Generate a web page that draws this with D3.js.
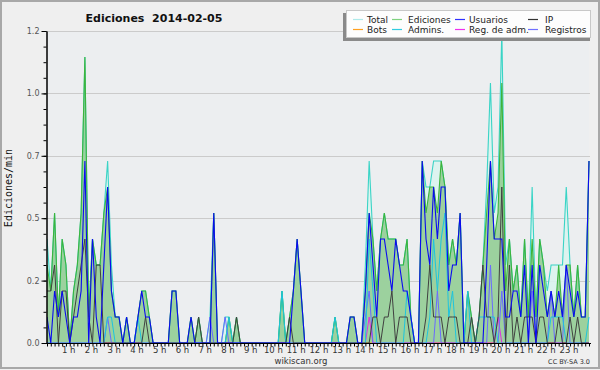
<!DOCTYPE html>
<html>
<head>
<meta charset="utf-8">
<script src="https://cdn.jsdelivr.net/npm/d3@7"></script>
<style>
  body { margin: 0; background: #efefef; }
  svg { display: block; }
</style>
</head>
<body>
<div id="chart"></div>
<script>
// 10-minute bins over the day (144 values), edits per minute
const hourLabels = ["1 h","2 h","3 h","4 h","5 h","6 h","7 h","8 h","9 h","10 h","11 h","12 h",
    "13 h","14 h","15 h","16 h","17 h","18 h","19 h","20 h","21 h","22 h","23 h"];
const yTickValues = [0, 0.24, 0.48, 0.72, 0.96, 1.2];

const total = [
    0.4,0.2,0.5,0.1,0.4,0.3,0,0.2,0.3,0.5,1.1,0.1,
    0.4,0.3,0.3,0.5,0.7,0.3,0.1,0.1,0,0.1,0,0,
    0.1,0.2,0.2,0.1,0,0,0,0,0,0.2,0.2,0,
    0,0,0.1,0,0.1,0,0,0.1,0.5,0,0,0.1,
    0.1,0,0.1,0,0,0,0,0,0,0,0,0,
    0,0,0.2,0,0.1,0.2,0.4,0.2,0,0,0,0,
    0,0,0,0,0.1,0,0,0,0.1,0.1,0,0,
    0.3,0.7,0.4,0.2,0.4,0.5,0.4,0.4,0.4,0.3,0.3,0.4,
    0.1,0,0,0.7,0.6,0.6,0.7,0.7,0.7,0.6,0.3,0.4,
    0.3,0.5,0,0.2,0.1,0,0.1,0.3,0.6,1.0,0.5,0.6,
    1.2,0.3,0.4,0.2,0.3,0.1,0.4,0.1,0.6,0.1,0.4,0.3,
    0.2,0.3,0.3,0.3,0.3,0.6,0.3,0.1,0.3,0.1,0.1,0.7
];
const ediciones = [
    0.3,0.2,0.5,0.1,0.4,0.3,0,0.2,0.3,0.5,1.1,0.1,
    0.4,0.3,0.3,0.5,0.6,0.2,0.1,0.1,0,0.1,0,0,
    0.1,0.2,0.2,0.1,0,0,0,0,0,0.2,0.2,0,
    0,0,0.1,0,0.1,0,0,0,0.5,0,0,0,
    0.1,0,0.1,0,0,0,0,0,0,0,0,0,
    0,0,0.2,0,0.1,0.2,0.4,0.2,0,0,0,0,
    0,0,0,0,0.1,0,0,0,0.1,0.1,0,0,
    0.2,0.5,0.4,0.2,0.4,0.5,0.4,0.4,0.4,0.3,0.3,0.4,
    0.1,0,0,0.7,0.5,0.6,0.6,0.5,0.7,0.6,0.3,0.4,
    0.3,0.5,0,0.2,0.1,0,0.1,0.3,0.5,0.7,0.4,0.5,
    1.0,0.2,0.4,0.2,0.3,0.1,0.4,0.1,0.4,0.1,0.4,0.3,
    0.1,0.2,0.1,0.3,0.1,0.3,0.3,0.1,0.3,0.1,0.1,0.7
];
const usuarios = [
    0.1,0,0.2,0.1,0.2,0.1,0,0.1,0.1,0.2,0.7,0,
    0.4,0.1,0,0.3,0.6,0.2,0.1,0.1,0,0.1,0,0,
    0.1,0.2,0.1,0.1,0,0,0,0,0,0.2,0.2,0,
    0,0,0.1,0,0,0,0,0,0.5,0,0,0,
    0,0,0,0,0,0,0,0,0,0,0,0,
    0,0,0,0,0,0.2,0.4,0.2,0,0,0,0,
    0,0,0,0,0,0,0,0,0.1,0.1,0,0,
    0.2,0.5,0.3,0.1,0.4,0.4,0.3,0.2,0.4,0.3,0.2,0.2,
    0.1,0,0,0.7,0.4,0.3,0.6,0.4,0.6,0.6,0.2,0.3,
    0.3,0.5,0,0,0,0,0,0,0.3,0.7,0.4,0.4,
    0.4,0.1,0.1,0.2,0.2,0.1,0.3,0,0.3,0,0.3,0.2,
    0.1,0.2,0.1,0.2,0.1,0.3,0.2,0.1,0.2,0.1,0.1,0.7
];
const ip = [
    0.2,0.2,0.3,0,0.2,0.2,0,0.1,0.2,0.3,0.4,0.1,
    0,0.3,0.3,0,0,0,0,0,0,0,0,0,
    0,0,0.1,0,0,0,0,0,0,0,0,0,
    0,0,0,0,0.1,0,0,0,0,0,0,0,
    0,0,0.1,0,0,0,0,0,0,0,0,0,
    0,0,0,0,0.1,0,0,0,0,0,0,0,
    0,0,0,0,0,0,0,0,0,0,0,0,
    0,0,0.1,0.1,0,0.1,0.1,0.2,0,0.1,0.1,0.1,
    0,0,0,0,0.1,0.3,0.1,0.1,0.1,0,0.1,0.1,
    0.1,0,0,0,0.1,0,0.1,0.3,0.1,0.1,0,0.1,
    0.6,0,0.3,0,0.1,0,0.1,0.1,0.1,0,0.1,0.1,
    0,0,0,0.1,0,0,0.1,0,0.1,0,0,0
];
const bots = [
    0,0,0,0,0,0,0,0,0,0,0,0, 0,0,0,0,0,0,0,0,0,0,0,0,
    0,0,0,0,0,0,0,0,0,0,0,0, 0,0,0,0,0,0,0,0,0,0,0,0,
    0,0,0,0,0,0,0,0,0,0,0,0, 0,0,0,0,0,0,0,0,0,0,0,0,
    0,0,0,0,0,0,0,0,0,0,0,0, 0,0,0,0,0,0,0,0,0,0,0,0,
    0,0,0,0,0,0,0,0,0,0,0,0, 0,0,0,0,0,0,0,0,0,0,0,0,
    0,0,0,0,0,0,0,0,0,0,0,0, 0,0,0,0,0,0,0,0,0,0,0,0
];
const admins = [
    0,0,0,0,0,0,0,0,0,0,0,0,
    0,0,0,0,0.1,0.1,0,0,0,0,0,0,
    0.1,0,0,0,0,0,0,0,0,0,0,0,
    0,0,0,0,0,0,0,0,0,0,0,0,
    0.1,0,0,0,0,0,0,0,0,0,0,0,
    0,0,0.2,0,0,0,0,0,0,0,0,0,
    0,0,0,0,0.1,0,0,0,0,0,0,0,
    0,0.4,0.2,0,0,0,0,0,0,0,0,0.2,
    0.1,0,0,0,0,0.1,0.4,0.2,0.4,0.5,0.1,0.2,
    0,0,0,0.2,0,0,0.1,0.1,0.1,0.1,0.1,0,
    0,0,0,0,0,0,0,0,0,0,0,0,
    0,0.1,0.1,0.1,0.1,0,0,0,0,0,0,0.1
];
const regAdm = [
    0,0,0,0,0,0,0,0,0,0,0,0, 0,0,0,0,0,0,0,0,0,0,0,0,
    0,0,0,0,0,0,0,0,0,0,0,0, 0,0,0,0,0,0,0,0,0,0,0,0,
    0,0,0,0,0,0,0,0,0,0,0,0, 0,0,0,0,0,0,0,0,0,0,0,0,
    0,0,0,0,0,0,0,0,0,0,0,0,
    0,0.1,0,0,0,0,0,0,0,0,0,0,
    0,0,0,0,0,0,0,0,0,0,0,0,
    0,0,0,0,0,0,0,0,0,0,0,0.1,
    0,0,0,0,0,0,0,0,0,0,0,0, 0,0,0,0,0,0,0,0,0,0,0,0
];
const registros = [
    0,0,0,0,0,0,0,0,0,0,0,0,
    0,0,0,0,0.1,0,0,0,0,0,0,0,
    0,0,0,0,0,0,0,0,0,0,0,0,
    0,0,0,0,0,0,0,0.1,0,0,0,0.1,
    0,0,0,0,0,0,0,0,0,0,0,0,
    0,0,0,0,0,0,0,0,0,0,0,0,
    0,0,0,0,0,0,0,0,0,0,0,0,
    0.1,0.2,0,0,0,0,0,0,0,0,0,0,
    0,0,0,0,0,0,0,0.2,0,0,0,0,
    0,0,0,0,0,0,0,0,0,0.3,0,0,
    0.2,0,0,0,0,0,0,0,0.2,0,0,0,
    0,0.2,0,0,0,0.3,0,0,0,0,0,0
];

const legendItems = [
    { name: "Total", color: "#aeeaea" },
    { name: "Ediciones", color: "#7fd27f" },
    { name: "Usuarios", color: "#3030ff" },
    { name: "IP", color: "#333333" },
    { name: "Bots", color: "#ffa020" },
    { name: "Admins.", color: "#30cce0" },
    { name: "Reg. de adm.", color: "#ee30ee" },
    { name: "Registros", color: "#7070ff" }
];

const width = 600, height = 370;
const plotLeft = 47, plotRight = 589, plotTop = 31, plotBottom = 343;

const svg = d3.select("#chart").append("svg")
    .attr("width", width)
    .attr("height", height);

// background + frame
svg.append("rect").attr("width", width).attr("height", height).attr("fill", "#efefef");
svg.append("rect").attr("x", 1).attr("y", 1).attr("width", width - 2).attr("height", height - 3)
    .attr("fill", "none").attr("stroke", "#a8a8a8").attr("stroke-width", 2);
svg.append("rect").attr("x", plotLeft).attr("y", plotTop).attr("width", plotRight - plotLeft).attr("height", plotBottom - plotTop)
    .attr("fill", "#eceef0");

const x = d3.scaleLinear().domain([0, total.length - 1]).range([plotLeft, plotRight]);
const y = d3.scaleLinear().domain([0, 1.2]).range([plotBottom, plotTop]);

// grid
svg.append("g").selectAll("line")
    .data(yTickValues.slice(1))
    .join("line")
    .attr("x1", plotLeft).attr("x2", plotRight + 1)
    .attr("y1", d => Math.round(y(d)) + 0.5).attr("y2", d => Math.round(y(d)) + 0.5)
    .attr("stroke", "#cbcbcb");

svg.append("clipPath").attr("id", "plot-clip")
    .append("rect").attr("x", plotLeft).attr("y", plotTop - 2).attr("width", plotRight - plotLeft + 2).attr("height", plotBottom - plotTop + 2);

const plot = svg.append("g").attr("clip-path", "url(#plot-clip)");

const area = d3.area().x((d, i) => x(i)).y0(y(0)).y1(d => y(d));
const line = d3.line().x((d, i) => x(i)).y(d => y(d));

plot.append("path").datum(total).attr("d", area).attr("fill", "#dcf3ee").attr("opacity", 0.9);
plot.append("path").datum(ediciones).attr("d", area).attr("fill", "#95cd95").attr("opacity", 0.9);

const series = [
    { data: bots, color: "#ffa020", w: 1 },
    { data: total, color: "#3ad4c6", w: 1.1 },
    { data: ediciones, color: "#3cb43c", w: 1.1 },
    { data: regAdm, color: "#e030e0", w: 1 },
    { data: registros, color: "#6a6aff", w: 1 },
    { data: admins, color: "#1ec4de", w: 1 },
    { data: ip, color: "#404040", w: 1 },
    { data: usuarios, color: "#0a0af0", w: 1.1 }
];
series.forEach(s => {
    plot.append("path").datum(s.data)
        .attr("d", line)
        .attr("fill", "none")
        .attr("stroke", s.color)
        .attr("stroke-width", s.w)
        .attr("stroke-linejoin", "miter");
});

// y axis: minor then major
const yMinor = d3.range(0, 21).map(i => i * 0.06);
svg.append("g").attr("transform", `translate(${plotLeft - 0.5},0)`)
    .call(d3.axisLeft(y).tickValues(yMinor).tickSize(3).tickSizeOuter(0).tickFormat(""))
    .call(g => g.select(".domain").attr("stroke", "#000"));
const yAxis = svg.append("g").attr("transform", `translate(${plotLeft - 0.5},0)`)
    .call(d3.axisLeft(y).tickValues(yTickValues).tickSize(5).tickSizeOuter(0).tickPadding(2).tickFormat(d3.format(".1f")));
yAxis.select(".domain").attr("stroke", "#000");
yAxis.selectAll("text").attr("font-family", "DejaVu Sans").attr("font-size", 8).attr("fill", "#555");

// x axis: 10-minute ticks, hour labels
const xAxis = svg.append("g").attr("transform", `translate(0,${plotBottom + 0.5})`)
    .call(d3.axisBottom(x).tickValues(d3.range(0, total.length)).tickSize(3).tickSizeOuter(0).tickFormat(""));
xAxis.select(".domain").attr("stroke", "#000").attr("d", `M${plotLeft - 1},0H${plotRight + 2}`);

svg.append("g").selectAll("text")
    .data(hourLabels)
    .join("text")
    .attr("x", (d, i) => x((i + 1) * 6) - 1)
    .attr("y", 353)
    .attr("text-anchor", "middle")
    .attr("font-family", "DejaVu Sans")
    .attr("font-size", 8.5)
    .attr("fill", "#333")
    .text(d => d);

// titles
svg.append("text")
    .attr("x", 154).attr("y", 22)
    .attr("text-anchor", "middle")
    .attr("font-family", "DejaVu Sans")
    .attr("font-weight", "bold")
    .attr("font-size", 11)
    .attr("fill", "#111")
    .attr("xml:space", "preserve")
    .text("Ediciones  2014-02-05");

svg.append("text")
    .attr("transform", "translate(12,188) rotate(-90)")
    .attr("text-anchor", "middle")
    .attr("font-family", "DejaVu Sans Mono")
    .attr("font-size", 10)
    .attr("fill", "#111")
    .text("Ediciones/min");

svg.append("text")
    .attr("x", 301).attr("y", 364)
    .attr("text-anchor", "middle")
    .attr("font-family", "DejaVu Sans")
    .attr("font-size", 8.5)
    .attr("fill", "#333")
    .text("wikiscan.org");

svg.append("text")
    .attr("x", 590).attr("y", 364)
    .attr("text-anchor", "end")
    .attr("font-family", "DejaVu Sans")
    .attr("font-size", 6.5)
    .attr("fill", "#333")
    .text("CC BY-SA 3.0");

// legend
const legend = svg.append("g");
legend.append("rect").attr("x", 343).attr("y", 13).attr("width", 247).attr("height", 28).attr("fill", "#8a8a8a");
legend.append("rect").attr("x", 346.5).attr("y", 10.5).attr("width", 244).attr("height", 27)
    .attr("fill", "#fdfdfd").attr("stroke", "#c8c8c8");
const colX = [353, 392, 455, 528];
const textX = [367, 408, 469, 545];
legendItems.forEach((d, i) => {
    const col = i % 4, row = Math.floor(i / 4);
    const ly = 19.5 + row * 10;
    legend.append("line")
        .attr("x1", colX[col]).attr("x2", colX[col] + 10)
        .attr("y1", ly).attr("y2", ly)
        .attr("stroke", d.color).attr("stroke-width", 1.2);
    legend.append("text")
        .attr("x", textX[col]).attr("y", ly + 3.5)
        .attr("font-family", "DejaVu Sans")
        .attr("font-size", 9)
        .attr("fill", "#222")
        .text(d.name);
});
</script>
</body>
</html>
